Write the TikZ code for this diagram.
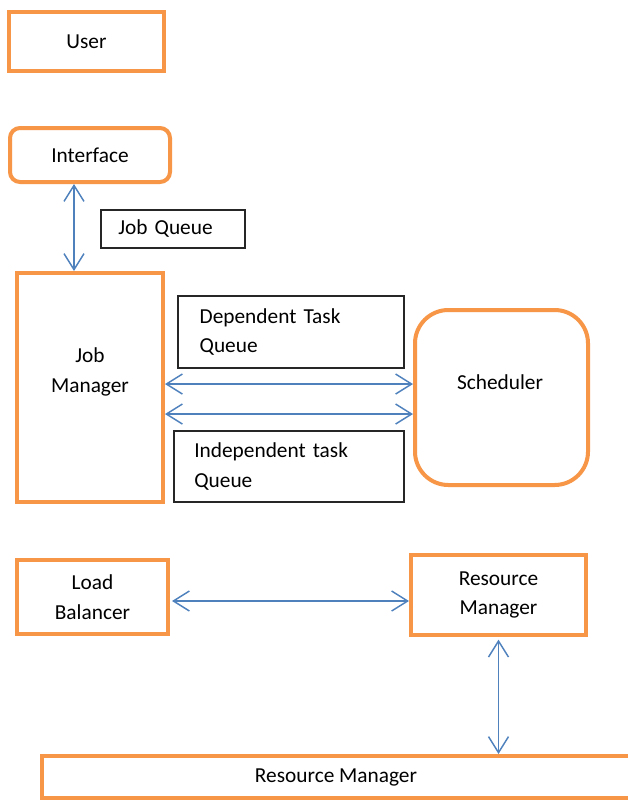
\documentclass[tikz,border=0pt]{standalone}
\usepackage{fontspec}
\setmainfont{Carlito}
\usetikzlibrary{arrows.meta}

\definecolor{box edge}{HTML}{F79646}
\definecolor{link color}{HTML}{4F81BD}
\tikzset{block/.style={draw=box edge, line width=3pt, fill=white, inner sep=0pt},
    roundblock/.style={block, rounded corners=#1},
    queue/.style={draw=black!85, line width=1.1pt, fill=white, align=left, inner xsep=0pt},
    tag/.style={align=center},
    link/.style={draw=link color, line width=1.1pt,
        {Straight Barb[length=12pt,width=15pt]}-{Straight Barb[length=12pt,width=15pt]}},
    every node/.style={font=\fontsize{16pt}{22pt}\selectfont}}

\begin{document}
\begin{tikzpicture}[x=0.75pt, y=-0.75pt]
    \useasboundingbox (0,0) rectangle (628,803);

    % top column
    \node[block, minimum width=116.25pt, minimum height=44.25pt] (user) at (86.5,41.5) {User};
    \node[roundblock=7.5pt, minimum width=120pt, minimum height=40.5pt] (iface) at (90,155) {Interface};
    \node[queue, minimum width=108pt, minimum height=28.5pt, text width=82pt] (jobq) at (173,229) {Job Queue};

    % job manager and the two task queues
    \node[block, minimum width=109.5pt, minimum height=171.75pt] (jobmgr) at (90,387.5) {};
    \node[tag] (jobmgrtxt) at (90,372) {Job\\Manager};
    \node[queue, minimum width=169.5pt, minimum height=54pt, text width=137pt] (depq) at (291,332)
        {Dependent Task\\Queue};
    \node[queue, minimum width=172.5pt, minimum height=53.25pt, text width=142pt] (indq) at (289,466.5)
        {Independent task\\Queue};
    \node[roundblock=25pt, minimum width=129.75pt, minimum height=131.25pt] (sched) at (501.5,397.5) {};
    \node[tag] (schedtxt) at (500,382) {Scheduler};

    % resources
    \node[block, align=center, minimum width=113.25pt, minimum height=55.5pt] (lb) at (92.5,597) {Load\\Balancer};
    \node[block, align=center, minimum width=131.25pt, minimum height=60pt] (rm) at (498.5,595) {Resource\\Manager};
    \node[block, minimum width=441pt, minimum height=31.5pt] (rmbot) at (336,777) {Resource Manager};

    % connectors
    \draw[link] ([xshift=-12pt]iface.south) -- ([xshift=-12pt]jobmgr.north);
    \coordinate (dt) at ([yshift=2.6pt]jobmgr.east);
    \coordinate (it) at ([yshift=-19.9pt]jobmgr.east);
    \draw[link] (dt) -- (dt -| sched.west);
    \draw[link] (it) -- (it -| sched.west);
    \coordinate (lr) at ([yshift=-3pt]lb.east);
    \draw[link] ([xshift=1.5pt]lr) -- (lr -| rm.west);
    \draw[link] ([yshift=-2pt]rm.south) -- (rm.south |- rmbot.north);
\end{tikzpicture}
\end{document}
